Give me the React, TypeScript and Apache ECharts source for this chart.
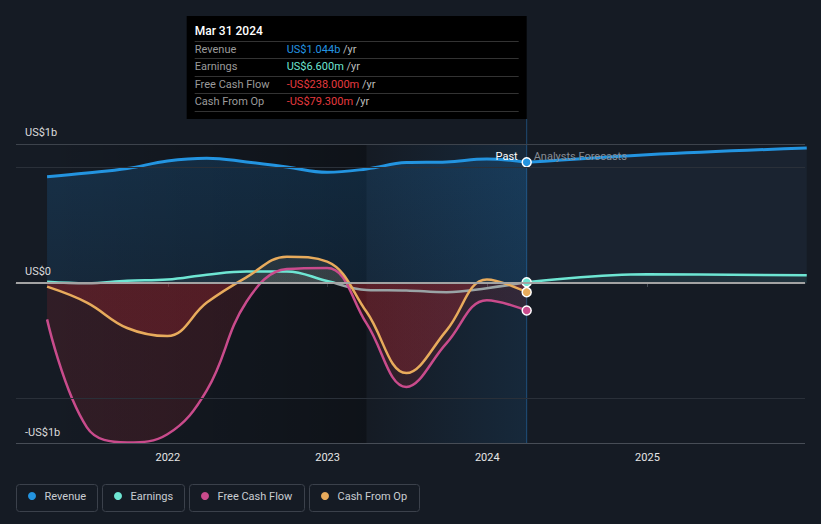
import React, { useEffect, useRef } from 'react';
import * as echarts from 'echarts';

// ---------- data ----------
const pastDates = ['2021-03-31', '2021-06-30', '2021-09-30', '2021-12-31', '2022-03-31', '2022-06-30', '2022-09-30', '2022-12-31', '2023-03-31', '2023-06-30', '2023-09-30', '2023-12-31', '2024-03-31'];
const revenuePast = [0.92, 0.952, 0.99, 1.056, 1.08, 1.048, 1.004, 0.958, 0.987, 1.042, 1.048, 1.074, 1.044];
const earningsPast = [0.011, -0.002, 0.02, 0.03, 0.072, 0.1, 0.1, 0.017, -0.06, -0.065, -0.08, -0.045, 0.0066];
const fcfPast = [-0.315, -1.25, -1.38, -1.31, -0.93, -0.16, 0.12, 0.13, -0.35, -0.9, -0.52, -0.15, -0.238];
const cfoPast = [-0.032, -0.17, -0.39, -0.46, -0.17, 0.05, 0.228, 0.184, -0.25, -0.78, -0.41, 0.03, -0.0793];
const forecastDates = ['2024-03-31', '2024-12-31', '2025-12-31'];
const revenueForecast = [1.044, 1.11, 1.169];
const earningsForecast = [0.0066, 0.075, 0.066];
const yearTicks = ['2022-01-01', '2023-01-01', '2024-01-01', '2025-01-01'];
const yTickLabels = ['US$1b', 'US$0', '-US$1b'];
const legendNames = ['Revenue', 'Earnings', 'Free Cash Flow', 'Cash From Op'];
const tooltipDate = 'Mar 31 2024';
const tooltipLabels = ['Revenue', 'Earnings', 'Free Cash Flow', 'Cash From Op'];
const tooltipValues = ['US$1.044b', 'US$6.600m', '-US$238.000m', '-US$79.300m'];
const pastLabel = 'Past';
const forecastLabel = 'Analysts Forecasts';
const lastYearStart = '2023-03-31';

// ---------- layout / style ----------
const W = 821;
const H = 524;
const GRID = { left: 16, right: 16, top: 144, bottom: 80 };
const Y_MIN = -1.394;
const Y_MAX = 1.203;
const X_MIN = '2021-01-19';
const X_MAX = '2025-12-27';
const BG = '#151b24';
const C_REV = '#2394e0';
const C_EARN = '#6ee6d3';
const C_EARN_NEG = '#9aa4a6';
const C_FCF = '#c94b8c';
const C_CFO = '#e8ab5c';
const C_NEG_TEXT = '#e53a3f';
const FONT = 'Roboto, sans-serif';

const ts = (s: string) => {
  const [y, m, d] = s.split('-').map(Number);
  return Date.UTC(y, m - 1, d);
};

const zeroY = GRID.top + ((H - GRID.top - GRID.bottom) * Y_MAX) / (Y_MAX - Y_MIN);
const zs = zeroY / H;
const split = (above: string, below: string) =>
  new echarts.graphic.LinearGradient(0, 0, 0, H, [
    { offset: 0, color: above },
    { offset: zs, color: above },
    { offset: zs, color: below },
    { offset: 1, color: below },
  ], true);

const pair = (dates: string[], vals: number[]) => dates.map((d, i) => [ts(d), vals[i]]);
const lastSym = (n: number) => (_v: any, p: any) => (p.dataIndex === n - 1 ? 9 : 0);

export default function App() {
  const ref = useRef<HTMLDivElement>(null);
  useEffect(() => {
    if (!ref.current) return;
    const chart = echarts.init(ref.current, null, { renderer: 'svg' });
    const n = pastDates.length;
    const baseLine = {
      type: 'line',
      smooth: 0.4,
      showAllSymbol: true,
      symbol: 'circle',
      silent: true,
    };
    const gridLabel = (text: string) => ({
      show: true,
      formatter: text,
      position: 'insideStartTop',
      distance: [9, 6],
      color: '#dcdcdc',
      fontSize: 11,
      fontFamily: FONT,
    });
    const option: any = {
      animation: false,
      backgroundColor: BG,
      grid: GRID,
      xAxis: {
        type: 'value',
        min: ts(X_MIN),
        max: ts(X_MAX),
        axisLine: { show: true, lineStyle: { color: '#474d56', width: 1 } },
        axisTick: { show: true, customValues: yearTicks.map(ts), length: 4, lineStyle: { color: '#474d56' } },
        axisLabel: {
          customValues: yearTicks.map(ts),
          formatter: (v: number) => String(new Date(v).getUTCFullYear()),
          color: '#e6e6e6',
          fontSize: 11,
          fontFamily: FONT,
          margin: 8,
        },
        splitLine: { show: false },
      },
      yAxis: {
        type: 'value',
        min: Y_MIN,
        max: Y_MAX,
        axisLine: { show: false },
        axisTick: { show: false },
        axisLabel: { show: false },
        splitLine: { show: false },
      },
      series: [
        {
          type: 'line',
          data: [],
          z: 1,
          silent: true,
          markArea: {
            silent: true,
            data: [
              [
                {
                  xAxis: ts(pastDates[0]),
                  itemStyle: {
                    color: new echarts.graphic.LinearGradient(0, 0, 1, 0, [
                      { offset: 0, color: 'rgba(0,0,0,0)' },
                      { offset: 1, color: 'rgba(0,0,0,0.32)' },
                    ]),
                  },
                },
                { xAxis: ts(lastYearStart) },
              ],
              [
                {
                  xAxis: ts(lastYearStart),
                  itemStyle: {
                    color: new echarts.graphic.LinearGradient(0, 0, 1, 0, [
                      { offset: 0, color: 'rgba(33,150,243,0.0)' },
                      { offset: 1, color: 'rgba(33,150,243,0.11)' },
                    ]),
                  },
                },
                { xAxis: ts(pastDates[n - 1]) },
              ],
            ],
          },
        },
        {
          ...baseLine,
          name: 'Revenue',
          z: 2,
          data: pair(pastDates, revenuePast),
          symbolSize: lastSym(n),
          itemStyle: { color: C_REV, borderColor: '#ffffff', borderWidth: 1.5 },
          lineStyle: { color: C_REV, width: 3 },
          areaStyle: {
            color: new echarts.graphic.LinearGradient(0, 0, 0, 1, [
              { offset: 0, color: 'rgba(33,150,243,0.24)' },
              { offset: 1, color: 'rgba(33,150,243,0.16)' },
            ]),
          },
        },
        {
          ...baseLine,
          name: 'Revenue forecast',
          z: 2,
          data: pair(forecastDates, revenueForecast),
          symbolSize: 0,
          lineStyle: { color: C_REV, width: 3 },
          areaStyle: { color: 'rgba(90,140,190,0.11)' },
        },
        {
          ...baseLine,
          name: 'Earnings',
          z: 2,
          data: pair(pastDates, earningsPast),
          symbolSize: lastSym(n),
          itemStyle: { color: C_EARN, borderColor: '#ffffff', borderWidth: 1.5 },
          lineStyle: { color: split(C_EARN, C_EARN_NEG), width: 2.5 },
          areaStyle: { color: split('rgba(150,200,190,0.12)', 'rgba(200,40,50,0.08)') },
        },
        {
          ...baseLine,
          name: 'Earnings forecast',
          z: 2,
          data: pair(forecastDates, earningsForecast),
          symbolSize: 0,
          lineStyle: { color: C_EARN, width: 2.5 },
          areaStyle: { color: 'rgba(110,230,211,0.12)' },
        },
        {
          ...baseLine,
          name: 'Free Cash Flow',
          z: 2,
          data: pair(pastDates, fcfPast),
          symbolSize: lastSym(n),
          itemStyle: { color: C_FCF, borderColor: '#ffffff', borderWidth: 1.5 },
          lineStyle: { color: C_FCF, width: 2.5 },
          areaStyle: { color: split('rgba(200,180,150,0.14)', 'rgba(200,40,50,0.22)') },
        },
        {
          ...baseLine,
          name: 'Cash From Op',
          z: 2,
          data: pair(pastDates, cfoPast),
          symbolSize: lastSym(n),
          itemStyle: { color: C_CFO, borderColor: '#ffffff', borderWidth: 1.5 },
          lineStyle: { color: C_CFO, width: 2.5 },
          areaStyle: { color: split('rgba(200,180,130,0.16)', 'rgba(200,40,50,0.34)') },
        },
        {
          type: 'line',
          data: [],
          z: 3,
          silent: true,
          markLine: {
            silent: true,
            symbol: ['none', 'none'],
            data: [
              { yAxis: Y_MAX, lineStyle: { color: '#3d434c', width: 1, type: 'solid' }, label: gridLabel(yTickLabels[0]) },
              { yAxis: 1, lineStyle: { color: '#2a3039', width: 1, type: 'solid' }, label: { show: false } },
              { yAxis: -1, lineStyle: { color: '#2a3039', width: 1, type: 'solid' }, label: { show: false } },
              { yAxis: 0, lineStyle: { color: '#a3a3a3', width: 2, type: 'solid' }, label: gridLabel(yTickLabels[1]) },
              { yAxis: Y_MIN, lineStyle: { color: '#474d56', width: 1, type: 'solid' }, label: gridLabel(yTickLabels[2]) },
            ],
          },
        },
      ],
    };
    chart.setOption(option);

    const [lx, topY] = chart.convertToPixel({ gridIndex: 0 } as any, [ts(pastDates[n - 1]), Y_MAX]) as number[];
    const bottomY = (chart.convertToPixel({ gridIndex: 0 } as any, [ts(pastDates[n - 1]), Y_MIN]) as number[])[1];

    const g: any[] = [];
    g.push({ type: 'line', z: 0, silent: true, shape: { x1: lx, y1: 119, x2: lx, y2: bottomY }, style: { stroke: '#1f4a72', lineWidth: 1 } });
    g.push({ type: 'text', z: 10, x: lx - 9, y: topY + 12, style: { text: pastLabel, fill: '#ffffff', fontSize: 11, fontFamily: FONT, align: 'right', verticalAlign: 'middle' } });
    g.push({ type: 'text', z: 10, x: lx + 7, y: topY + 12, style: { text: forecastLabel, fill: '#868c94', fontSize: 11, fontFamily: FONT, align: 'left', verticalAlign: 'middle' } });

    const bw = 340;
    const bx = lx - bw;
    g.push({ type: 'rect', z: 20, shape: { x: bx, y: 16, width: bw, height: 103 }, style: { fill: '#000000' } });
    g.push({ type: 'text', z: 21, x: bx + 8, y: 31, style: { text: tooltipDate, fill: '#ffffff', fontSize: 12, fontWeight: 500, fontFamily: FONT, verticalAlign: 'middle' } });
    const seps = [41.5, 58.5, 76.5, 93.5, 111.5];
    seps.forEach((sy) => g.push({ type: 'line', z: 21, shape: { x1: bx + 8, y1: sy, x2: lx - 8, y2: sy }, style: { stroke: '#333333', lineWidth: 1 } }));
    const rowY = [49.5, 66.5, 84, 101];
    const valColors = [C_REV, C_EARN, C_NEG_TEXT, C_NEG_TEXT];
    tooltipLabels.forEach((lab, i) => {
      g.push({ type: 'text', z: 21, x: bx + 8, y: rowY[i], style: { text: lab, fill: '#9b9b9b', fontSize: 11, fontFamily: FONT, verticalAlign: 'middle' } });
      g.push({
        type: 'text', z: 21, x: bx + 100, y: rowY[i],
        style: {
          text: `{v|${tooltipValues[i]}} {u|/yr}`,
          fontSize: 11, fontFamily: FONT, verticalAlign: 'middle',
          rich: {
            v: { fill: valColors[i], fontSize: 11, fontFamily: FONT },
            u: { fill: '#bdbdbd', fontSize: 11, fontFamily: FONT },
          },
        },
      });
    });

    const legendBoxes = [
      { x: 16.5, w: 81 },
      { x: 102.5, w: 82 },
      { x: 189.5, w: 115 },
      { x: 309.5, w: 110 },
    ];
    const legendColors = [C_REV, C_EARN, C_FCF, C_CFO];
    legendNames.forEach((name, i) => {
      const b = legendBoxes[i];
      g.push({ type: 'rect', z: 5, shape: { x: b.x, y: 484.5, width: b.w, height: 27, r: 3 }, style: { fill: 'transparent', stroke: '#3b414b', lineWidth: 1 } });
      g.push({ type: 'circle', z: 6, shape: { cx: b.x + 15.5, cy: 496, r: 4 }, style: { fill: legendColors[i] } });
      g.push({ type: 'text', z: 6, x: b.x + 28, y: 496.5, style: { text: name, fill: '#c9cdd2', fontSize: 11, fontFamily: FONT, verticalAlign: 'middle' } });
    });

    chart.setOption({ graphic: g });
    return () => chart.dispose();
  }, []);

  return <div ref={ref} style={{ position: 'absolute', left: 0, top: 0, width: W, height: H }} />;
}
